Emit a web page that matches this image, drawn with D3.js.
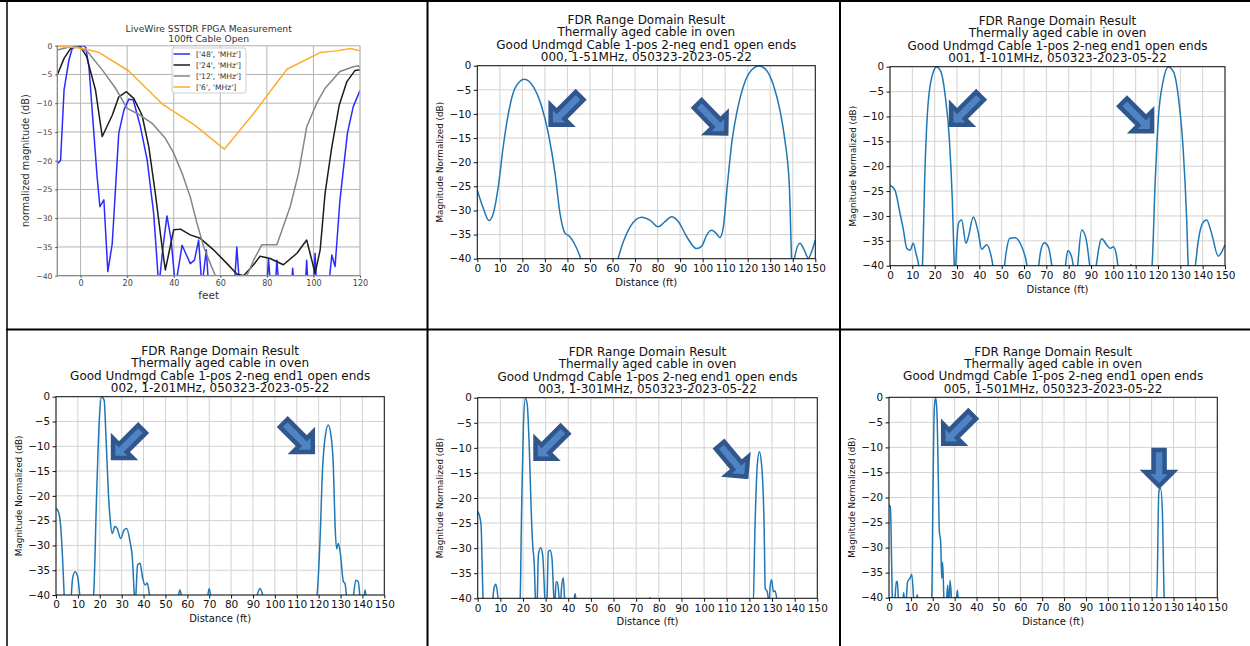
<!DOCTYPE html>
<html><head><meta charset="utf-8">
<script src="https://cdn.jsdelivr.net/npm/d3@7"></script>
<style>
body{margin:0;background:#fff}
svg{display:block}
text{font-family:'DejaVu Sans',sans-serif}
</style>
</head><body>
<svg id="c" width="1250" height="646"></svg>
<script>
// ---------------- DATA ----------------
// Panel 1: LiveWire SSTDR FPGA measurement (feet, dB)
const sstdrNames = ["['48', 'MHz']", "['24', 'MHz']", "['12', 'MHz']", "['6', 'MHz']"];
const sstdr48 = [[-10,-20.5],[-8.6,-20],[-7.1,-7.7],[-5,-2.5],[-3.6,-0.5],[-1.4,-0.05],[1.4,0],[2.2,-0.3],[3.6,-3.7],[5.7,-15.2],[7.1,-22.8],[8.3,-28],[10,-26.8],[11.7,-39.3],[13.6,-34.4],[16.4,-15.2],[18.6,-11.2],[20.7,-9.3],[22.6,-9.4],[25.7,-14.1],[28.6,-19.9],[31.4,-29.2],[33.6,-42],[35.4,-35],[37.1,-29.6],[38.9,-33.8],[40.7,-42],[43.6,-34.7],[47.1,-37.9],[48.9,-37.3],[50.7,-33.8],[52.1,-42],[54,-35.5],[55,-42],[60,-48],[66,-42],[67.1,-35],[68.3,-42],[80,-42],[80.7,-37],[81.6,-42],[83.6,-42],[84.3,-37.3],[85.2,-42],[90.5,-42],[91.1,-38.7],[91.7,-42],[96.5,-42],[97.1,-37.3],[97.7,-42],[100,-42],[100.7,-36.1],[101.4,-42],[106.5,-42],[107.9,-36.4],[109.3,-38.4],[111.4,-26.8],[114.6,-15.2],[117.1,-10.6],[120,-7.8]];
const sstdr24 = [[-10,-5.1],[-7.1,-2.2],[-4.3,-0.5],[-2.1,0],[0,-0.2],[2.6,-1.9],[6.4,-7.7],[9.3,-15.8],[13.6,-12.1],[16.4,-8.9],[19.7,-8.0],[22.9,-9.2],[26.4,-12.1],[29.3,-17.6],[32.1,-25.7],[35,-35],[36.4,-39],[37.9,-36.1],[40,-32],[42.9,-31.9],[47.1,-32.9],[51.4,-33.5],[57.1,-35.5],[62.9,-37.9],[67.1,-39.7],[70,-40],[74.3,-38.1],[77.1,-36.6],[81.4,-37],[87.1,-38.1],[92.9,-36.1],[97.1,-33.8],[99.3,-37.3],[100.7,-39.6],[102.9,-35.5],[105,-25.7],[107.9,-17.6],[111.1,-10.3],[114.3,-6.3],[117.9,-4.3],[120,-4.2]];
const sstdr12 = [[-10,-0.75],[-5.7,-0.3],[-1.4,-0.2],[2.9,-1.0],[9.3,-4.2],[15,-7.4],[20,-10.9],[25.7,-12.1],[30.7,-13.5],[36.4,-16.1],[40,-18.7],[43.6,-22.2],[47.1,-26.3],[50,-30.9],[52.9,-35],[55.7,-37.9],[57.9,-40],[59,-42],[70,-42],[71.4,-40],[74.3,-37.3],[77.9,-34.6],[84.3,-34.6],[90,-28],[93.6,-22.2],[97.1,-14.1],[101.4,-10],[105,-7.4],[111.4,-4.5],[117.1,-3.65],[119.3,-3.5],[120,-3.9]];
const sstdr6 = [[-10,-0.1],[0,-0.4],[8,-1.2],[20.7,-4.4],[35,-10.1],[49,-13.8],[61.7,-18],[74.3,-11.8],[88.6,-4.1],[102.9,-1.2],[110,-0.9],[116,-0.5],[120,-0.9]];
const sstdrTitle = ["LiveWire SSTDR FPGA Measurement", "100ft Cable Open"];
const sstdrXTicks = [0, 20, 40, 60, 80, 100, 120];

// Panels 2-6: FDR range domain results (ft, dB)
const fdr000 = [[0,-25.8],[2.7,-29.6],[5.2,-32.1],[7.1,-30.6],[9.3,-25.1],[11.5,-16.8],[13.8,-9.9],[16.7,-4.7],[20.9,-2.8],[24.9,-4.4],[28.6,-8.5],[31.5,-14],[34.5,-22.3],[36.7,-30.6],[38.9,-34.7],[40.8,-35.3],[43,-36.8],[45.3,-39.2],[47,-41.5],[50,-46],[60,-46],[62,-41],[64.8,-36.5],[67.8,-33.4],[72.9,-31.4],[76.6,-32],[80.3,-33.4],[83.3,-32.3],[86.2,-31.3],[89.2,-32.3],[92.9,-35.4],[97.3,-37.9],[99.6,-37.4],[101.8,-35.1],[104,-34.1],[105.9,-34.7],[107.7,-35.6],[109.2,-33.4],[110.9,-25.1],[112.9,-16.1],[115.1,-9.9],[118,-4.4],[121.7,-0.9],[125,-0.05],[128.4,-1],[131.4,-4],[134.3,-9.2],[136.5,-15.4],[138.5,-25.1],[139.5,-40.3],[140,-44],[140.7,-40.1],[143.2,-36.8],[145.1,-38.2],[146.9,-39.9],[148.4,-38.5],[150,-36.1]];
const fdr001 = [[0,-23.8],[2.2,-24.8],[4.5,-29.5],[6,-32.8],[7.5,-36.5],[9,-36.9],[10.4,-35.5],[11.6,-37.5],[13,-40.5],[13.8,-45],[14.5,-40.5],[15.7,-20.1],[17.2,-6.7],[19.4,-1],[20.9,-0.05],[22.8,-1],[24.6,-5.4],[26.6,-14.7],[27.9,-26.8],[28.8,-40.5],[29.1,-45],[29.4,-40.5],[30.9,-31.2],[32.1,-30.8],[34,-35.5],[35.1,-34.2],[37.3,-30.2],[39.6,-33.5],[41,-36.7],[43.3,-35.8],[45.2,-37.9],[46.3,-40.5],[48,-45],[51,-41],[51.8,-38],[53.7,-34.5],[56,-34.4],[59,-36.2],[60.7,-38.5],[61.6,-40.5],[64,-45],[66.4,-40.5],[67.5,-37],[69.1,-35.4],[70.9,-36.2],[72.7,-40.5],[75,-45],[78.4,-40.5],[79.6,-37],[81.3,-38.2],[82.2,-40.5],[83,-44],[83.9,-40.5],[85.8,-32.8],[87.6,-34.2],[89.6,-40.5],[91,-45],[92.2,-40.5],[94.8,-34.6],[97,-35.8],[98.5,-36.5],[100,-36.2],[101.5,-38.2],[102.2,-40.5],[105,-45],[107.5,-41],[107.9,-39.7],[108.3,-41],[112,-45],[117.2,-40.5],[118.7,-23.5],[120.1,-10.7],[122.4,-2.7],[124.6,-0.05],[126.9,-1],[129.1,-6],[131.3,-16.8],[132.8,-30.2],[133.6,-40.5],[135,-45],[136.6,-40.5],[138.1,-34.8],[140.3,-31.2],[141.8,-30.8],[144,-33.5],[147,-38.1],[148.2,-37.5],[150,-35.8]];
const fdr002 = [[0,-22.5],[1.1,-23.2],[2.1,-25.9],[3,-32.6],[3.8,-40.5],[5,-46],[6.9,-40.5],[7.6,-36.6],[8.7,-35.3],[9.9,-36.3],[11,-40.5],[14,-46],[17.1,-40.5],[18.6,-19.2],[19.8,-4.4],[20.9,-0.05],[22,-0.7],[22.8,-7.7],[23.9,-19.2],[24.7,-24.5],[25.7,-27.6],[26.9,-26.2],[28,-26.6],[29.5,-28.6],[31.1,-26.9],[32.3,-26.6],[33.8,-29.2],[34.9,-32.6],[35.8,-40],[36.2,-42],[36.5,-40],[37.3,-33.9],[38.4,-33.6],[39.6,-36.6],[40.7,-38],[41.7,-37.6],[42.9,-40.5],[46,-46],[55.5,-41],[56.6,-39],[57.7,-41],[62,-46],[69,-41],[70,-38.7],[71,-41],[80,-46],[91.5,-40.5],[93.2,-38.7],[94.8,-40.5],[105,-46],[119.1,-40.3],[120.6,-29.2],[121.8,-14.5],[122.9,-8.4],[124.4,-5.7],[125.6,-7.7],[126.7,-13.8],[127.5,-25.9],[128.2,-30.7],[129,-29.6],[130,-31.9],[131.3,-37.3],[132,-37.6],[132.8,-40.5],[134,-46],[135.8,-40.5],[137,-37],[138.1,-37.3],[138.9,-40.5],[140,-44],[140.8,-40.5],[141.2,-39],[141.7,-40.5],[144,-46],[150,-46]];
const fdr003 = [[0,-22.7],[0.7,-23.4],[1.5,-25.4],[1.9,-32],[2.4,-40.5],[4,-46],[6.6,-40.5],[7.2,-38],[8,-37.2],[8.7,-38.8],[9.1,-40.5],[13,-46],[18.7,-40.5],[19.4,-22.1],[20.2,-5.4],[21.1,-0.05],[21.9,-1.5],[22.8,-10.1],[23.6,-22.1],[24.3,-29.4],[25,-33.4],[25.5,-40.5],[25.9,-44],[26.3,-40.5],[26.8,-31.4],[27.8,-29.9],[28.7,-31.4],[29.7,-40.5],[30.2,-44],[30.6,-40.5],[31.2,-30.7],[32,-30.4],[32.8,-32],[33.7,-40.5],[34,-42],[34.6,-36.7],[35.2,-36.8],[36.1,-40.5],[36.5,-42],[37,-38],[37.8,-35.9],[38.4,-40.5],[40,-46],[42.5,-40.5],[43,-39.1],[43.5,-40.5],[50,-46],[75.6,-40.3],[76.1,-39.9],[76.6,-40.3],[90,-46],[121.7,-40.5],[122.5,-25.4],[123.5,-13.4],[124.4,-10.8],[125.4,-13.4],[126.5,-25.4],[127,-38],[127.9,-38.7],[128.5,-40.5],[128.8,-41],[129.1,-38],[129.8,-36.3],[130.6,-38.7],[131.3,-38.5],[132.3,-40.5],[135,-46],[150,-46]];
const fdr005 = [[0,-21.5],[0.6,-21.8],[0.9,-25.5],[1.5,-40.5],[2,-46],[2.7,-40.5],[3.4,-36.8],[3.8,-36.7],[4.3,-40.5],[5,-46],[6.4,-40.5],[6.7,-39],[7,-40.5],[7.5,-43],[7.9,-40.5],[8.5,-36.8],[9.6,-36.1],[10.4,-35.3],[11.3,-40.5],[12,-44],[12.6,-40.3],[12.9,-39.4],[13.2,-40.3],[16,-46],[19.5,-40.5],[20.1,-18.8],[20.7,-2.2],[21.3,-0.05],[21.9,-2.9],[22.5,-15.5],[23,-26.8],[23.6,-28.8],[24.1,-36.1],[24.5,-32.9],[25.1,-40.5],[25.6,-44],[26.3,-40.5],[26.8,-37.5],[27.2,-40.5],[27.5,-41],[27.9,-36.5],[28.6,-40.5],[29.5,-46],[30.8,-40.5],[31.2,-38.5],[31.7,-40.5],[35,-46],[122.3,-40.5],[123.3,-18.8],[124.1,-18.2],[124.9,-22.8],[125.8,-40.5],[128,-46],[150,-46]];

// Arrow annotations (data x, data y of tip, direction in degrees, shaft length)
const arrows000 = [[31.6,-12.7,135,41],[111.4,-14.5,46,41]];
const arrows001 = [[26.4,-12.1,135,41],[118.3,-13.4,45,41]];
const arrows002 = [[25.1,-12.8,135,41],[118.3,-11.6,45,41]];
const arrows003 = [[24.6,-12.6,135,41],[119.5,-16.2,50,41]];
const arrows005 = [[23.8,-9.7,135,41],[123.4,-18.3,90,36]];

const fdrTitle = ["FDR Range Domain Result", "Thermally aged cable in oven", "Good Undmgd Cable 1-pos 2-neg end1 open ends"];
const runIds = ["000", "001", "002", "003", "005"];
const bands = ["1-51MHz", "1-101MHz", "1-201MHz", "1-301MHz", "1-501MHz"];
const dateTag = "050323-2023-05-22";
const fdrXTicks = [0,10,20,30,40,50,60,70,80,90,100,110,120,130,140,150];
const magTicks = [0,-5,-10,-15,-20,-25,-30,-35,-40];

// ---------------- LAYOUT ----------------
const svg = d3.select('#c');
const FONT = "'DejaVu Sans', sans-serif";
const minusFmt = d => d < 0 ? '\u2212' + (-d) : String(d);

const fdrData = [fdr000, fdr001, fdr002, fdr003, fdr005];
const fdrArrows = [arrows000, arrows001, arrows002, arrows003, arrows005];
const fdrBoxes = [[477.3,65.7,815.3,258.7],[890,66.7,1225,265.7],[56,396.7,384.3,595],[477.7,397.7,817.3,598.3],[889,397.3,1217.3,597.7]];

function styleAxis(s, size, color){
  s.select('.domain').remove();
  s.attr('font-family', FONT).attr('font-size', size);
  s.selectAll('text').attr('fill', color);
  s.selectAll('line').attr('stroke', color);
}

function arrowPts(len){
  const hl = 14, hw = 14, sw = 5.5;
  return [[0,0],[-hl,hw],[-hl,sw],[-len,sw],[-len,-sw],[-hl,-sw],[-hl,-hw]].map(p=>p.join(',')).join(' ');
}

function fdrPanel(i){
  const [l,t,r,b] = fdrBoxes[i];
  const x = d3.scaleLinear().domain([0,150]).range([l,r]);
  const y = d3.scaleLinear().domain([-40,0]).range([b,t]);
  const g = svg.append('g');
  g.append('g').selectAll('line').data(fdrXTicks).join('line')
    .attr('x1',d=>x(d)).attr('x2',d=>x(d)).attr('y1',t).attr('y2',b)
    .attr('stroke','#d2d2d2').attr('stroke-width',1);
  g.append('g').selectAll('line').data(magTicks).join('line')
    .attr('y1',d=>y(d)).attr('y2',d=>y(d)).attr('x1',l).attr('x2',r)
    .attr('stroke','#d2d2d2').attr('stroke-width',1);
  const cid = 'clipf' + i;
  svg.append('clipPath').attr('id',cid).append('rect')
    .attr('x',l).attr('y',t-1).attr('width',r-l).attr('height',b-t+1);
  g.append('path').datum(fdrData[i]).attr('clip-path',`url(#${cid})`)
    .attr('fill','none').attr('stroke','#1f77b4').attr('stroke-width',1.5)
    .attr('stroke-linejoin','round')
    .attr('d', d3.line().x(d=>x(d[0])).y(d=>y(d[1])).curve(d3.curveMonotoneX));
  g.append('rect').attr('x',l).attr('y',t).attr('width',r-l).attr('height',b-t)
    .attr('fill','none').attr('stroke','#111').attr('stroke-width',1);
  g.append('g').attr('transform',`translate(0,${b})`)
    .call(d3.axisBottom(x).tickValues(fdrXTicks).tickSize(3.5).tickPadding(2.5))
    .call(s=>styleAxis(s,10.5,'#111'));
  g.append('g').attr('transform',`translate(${l},0)`)
    .call(d3.axisLeft(y).tickValues(magTicks).tickFormat(minusFmt).tickSize(3.5).tickPadding(2.5))
    .call(s=>styleAxis(s,10.3,'#111'));
  const lines = fdrTitle.concat([`${runIds[i]}, ${bands[i]}, ${dateTag}`]);
  g.append('g').selectAll('text').data(lines).join('text')
    .attr('x',(l+r)/2).attr('y',(d,k)=>t-4.7-(3-k)*12.3)
    .attr('text-anchor','middle').attr('font-size',12).attr('fill','#111').text(d=>d);
  g.append('text').attr('x',(l+r)/2).attr('y',b+27).attr('text-anchor','middle')
    .attr('font-size',10).attr('fill','#111').text('Distance (ft)');
  g.append('text').attr('transform',`translate(${l-34.3},${(t+b)/2}) rotate(-90)`)
    .attr('text-anchor','middle').attr('font-size',8.8).attr('fill','#111').text('Magnitude Normalized (dB)');
  g.append('g').selectAll('polygon').data(fdrArrows[i]).join('polygon')
    .attr('points', d=>arrowPts(d[3]))
    .attr('transform', d=>`translate(${x(d[0])},${y(d[1])}) rotate(${d[2]}) translate(-3,0)`)
    .attr('fill','#4f84c4').attr('stroke','#30568c').attr('stroke-width',4.5)
    .attr('stroke-linejoin','miter');
}

function sstdrPanel(){
  const [l,t,r,b] = [57.3,45.7,360,275.7];
  const x = d3.scaleLinear().domain([-10,120]).range([l,r]);
  const y = d3.scaleLinear().domain([-40,0]).range([b,t]);
  const g = svg.append('g');
  g.append('g').selectAll('line').data(sstdrXTicks).join('line')
    .attr('x1',d=>x(d)).attr('x2',d=>x(d)).attr('y1',t).attr('y2',b)
    .attr('stroke','#b4b4b4').attr('stroke-width',1);
  g.append('g').selectAll('line').data(magTicks).join('line')
    .attr('y1',d=>y(d)).attr('y2',d=>y(d)).attr('x1',l).attr('x2',r)
    .attr('stroke','#b4b4b4').attr('stroke-width',1);
  svg.append('clipPath').attr('id','clips').append('rect')
    .attr('x',l).attr('y',t-1).attr('width',r-l).attr('height',b-t+1);
  const series = [sstdr48, sstdr24, sstdr12, sstdr6];
  const colors = ['#2b2bff', '#1c1c1c', '#858585', '#ffab2e'];
  const line = d3.line().x(d=>x(d[0])).y(d=>y(d[1]));
  g.append('g').attr('clip-path','url(#clips)').selectAll('path').data(series).join('path')
    .attr('fill','none').attr('stroke',(d,k)=>colors[k]).attr('stroke-width',1.5)
    .attr('stroke-linejoin','round').attr('d', line);
  g.append('line').attr('x1',l).attr('x2',r).attr('y1',t).attr('y2',t).attr('stroke','#c4c4c4');
  g.append('line').attr('x1',r).attr('x2',r).attr('y1',t).attr('y2',b).attr('stroke','#c4c4c4');
  g.append('line').attr('x1',l).attr('x2',l).attr('y1',t).attr('y2',b).attr('stroke','#8a8a8a').attr('stroke-width',1.3);
  g.append('line').attr('x1',l).attr('x2',r).attr('y1',b).attr('y2',b).attr('stroke','#8a8a8a').attr('stroke-width',1.3);
  g.append('g').attr('transform',`translate(0,${b})`)
    .call(d3.axisBottom(x).tickValues(sstdrXTicks).tickSize(2).tickPadding(2.5))
    .call(s=>styleAxis(s,8,'#444'));
  g.append('g').attr('transform',`translate(${l},0)`)
    .call(d3.axisLeft(y).tickValues(magTicks).tickFormat(minusFmt).tickSize(2).tickPadding(3))
    .call(s=>styleAxis(s,7.6,'#444'));
  g.append('g').selectAll('text').data(sstdrTitle).join('text')
    .attr('x',(l+r)/2).attr('y',(d,k)=>31.5+k*10)
    .attr('text-anchor','middle').attr('font-size',9.2).attr('fill','#333').text(d=>d);
  g.append('text').attr('x',(l+r)/2).attr('y',299).attr('text-anchor','middle')
    .attr('font-size',10.5).attr('fill','#333').text('feet');
  g.append('text').attr('transform',`translate(28.5,${(t+b)/2}) rotate(-90)`)
    .attr('text-anchor','middle').attr('font-size',9.7).attr('fill','#333').text('normalized magnitude (dB)');
  // legend
  const lg = g.append('g');
  lg.append('rect').attr('x',172).attr('y',48).attr('width',74).attr('height',45).attr('rx',2)
    .attr('fill','#fff').attr('fill-opacity',0.85).attr('stroke','#cfcfcf');
  const items = lg.selectAll('g').data(sstdrNames).join('g')
    .attr('transform',(d,k)=>`translate(0,${54+k*11})`);
  items.append('line').attr('x1',173.5).attr('x2',190).attr('stroke',(d,k)=>colors[k]).attr('stroke-width',1.5);
  items.append('text').attr('x',196).attr('y',2.7).attr('font-size',7.6).attr('fill','#333').text(d=>d);
}

sstdrPanel();
for (let i = 0; i < 5; i++) fdrPanel(i);

// table borders
const bd = svg.append('g').attr('stroke','#000');
bd.append('line').attr('x1',0).attr('x2',1250).attr('y1',1).attr('y2',1).attr('stroke-width',2);
bd.append('line').attr('x1',6).attr('x2',1250).attr('y1',329.5).attr('y2',329.5).attr('stroke-width',2.2);
bd.append('line').attr('x1',7).attr('x2',7).attr('y1',0).attr('y2',646).attr('stroke-width',1.5);
bd.append('line').attr('x1',427.5).attr('x2',427.5).attr('y1',0).attr('y2',646).attr('stroke-width',2);
bd.append('line').attr('x1',840).attr('x2',840).attr('y1',0).attr('y2',646).attr('stroke-width',2);
</script>
</body></html>
